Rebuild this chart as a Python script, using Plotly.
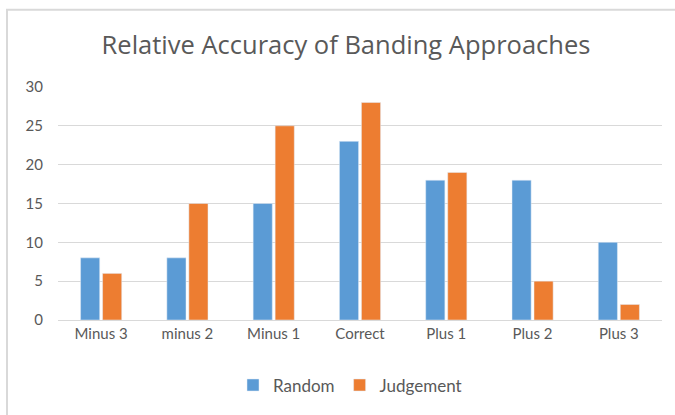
import plotly.graph_objects as go

categories = ["Minus 3", "minus 2", "Minus 1", "Correct", "Plus 1", "Plus 2", "Plus 3"]
random_vals = [8, 8, 15, 23, 18, 18, 10]
judgement_vals = [6, 15, 25, 28, 19, 5, 2]
y_ticks = [0, 5, 10, 15, 20, 25, 30]

W, H = 675, 415
L, R, T, B = 58, 13, 87, 93
pw = W - L - R
ph = H - T - B

def px_x(x):
    return (x - L) / pw

def px_y(y):
    return (H - B - y) / ph

fig = go.Figure()
fig.add_trace(go.Bar(name="Random", x=categories, y=random_vals, marker_color="#5B9BD5"))
fig.add_trace(go.Bar(name="Judgement", x=categories, y=judgement_vals, marker_color="#ED7D31"))

font_family = "Lato, 'Open Sans', sans-serif"

fig.update_layout(
    width=W, height=H,
    margin=dict(l=L, r=R, t=T, b=B),
    paper_bgcolor="white", plot_bgcolor="white",
    barmode="group", bargap=0.49, bargroupgap=0.13,
    title=dict(text="Relative Accuracy of Banding Approaches", x=px_x(346), xanchor="center",
               xref="paper", y=1 - 45 / H, yanchor="middle",
               font=dict(family="'Open Sans', sans-serif", size=25.5, color="#595959")),
    font=dict(family=font_family, size=15, color="#595959"),
    legend=dict(orientation="h", x=px_x(350), xanchor="center", y=px_y(388), yanchor="middle",
                font=dict(size=17, color="#595959"), itemwidth=30),
    xaxis=dict(showgrid=False, showline=True, linecolor="#d9d9d9", linewidth=1,
               ticks="", tickfont=dict(size=15, color="#595959")),
    yaxis=dict(range=[0, 30], tickvals=y_ticks, showgrid=True, gridcolor="#d9d9d9",
               gridwidth=1, zeroline=False, ticks="", ticklabelstandoff=14,
               tickfont=dict(size=15, color="#595959")),
    showlegend=True,
)

# outer chart border (light gray, partially cropped in reference)
fig.add_shape(type="rect", xref="paper", yref="paper",
              x0=px_x(7), x1=px_x(W + 10), y0=px_y(H + 10), y1=px_y(9),
              line=dict(color="#d9d9d9", width=2), fillcolor="rgba(0,0,0,0)", layer="below")

fig.write_html("out.html", config={"displayModeBar": False},
               post_script="document.body.style.margin='0';")
